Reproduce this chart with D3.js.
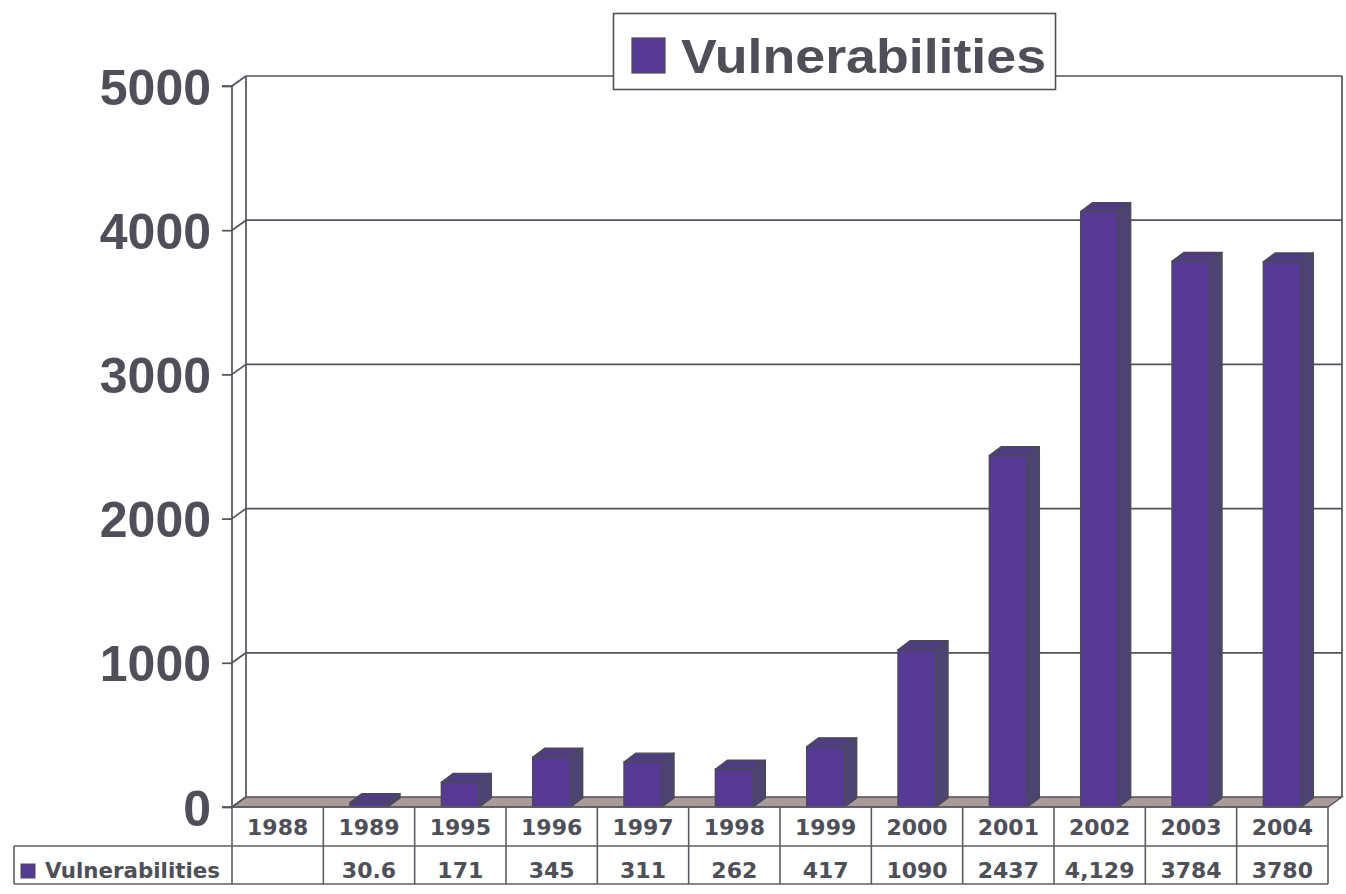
<!DOCTYPE html>
<html>
<head>
<meta charset="utf-8">
<script src="https://cdn.jsdelivr.net/npm/d3@7"></script>
<style>
  html, body { margin: 0; padding: 0; background: #ffffff; }
  svg { display: block; }
</style>
</head>
<body>
<svg id="chart" width="1346" height="894"></svg>
<script>
// ---- data ----
const years = ["1988", "1989", "1995", "1996", "1997", "1998", "1999", "2000", "2001", "2002", "2003", "2004"];
const vulnerabilities = [null, 30.6, 171, 345, 311, 262, 417, 1090, 2437, 4129, 3784, 3780];
const valueLabels = ["", "30.6", "171", "345", "311", "262", "417", "1090", "2437", "4,129", "3784", "3780"];
const yTicks = [0, 1000, 2000, 3000, 4000, 5000];
const seriesName = "Vulnerabilities";

// ---- style ----
const C = {
  front: "#563a93",
  side: "#4d4473",
  top: "#4e3d80",
  stroke: "#4a4a56",
  floor: "#a89b98",
  grid: "#52525c",
  text: "#4e4f58"
};

const svg = d3.select("#chart");

// geometry
const x0 = 232, x1 = 1328, yBottom = 807, yTop = 86;
const depthX = 14, depthY = -10;       // wall depth
const barDX = 12, barDY = -9;          // bar depth

const y = d3.scaleLinear().domain([0, 5000]).range([yBottom, yTop]);
const xCol = d3.scaleBand().domain(years).range([x0, x1]).padding(0);
const xBar = d3.scaleBand().domain(years).range([x0, x1]).paddingInner(0.584).paddingOuter(0.292);

const g = svg.append("g");

// floor
g.append("path")
  .attr("d", `M${x0},${yBottom} L${x1},${yBottom} L${x1 + depthX},${yBottom + depthY} L${x0 + depthX},${yBottom + depthY} Z`)
  .attr("fill", C.floor).attr("stroke", C.grid).attr("stroke-width", 1.3);

// back wall gridlines
const grid = g.append("g");
yTicks.forEach(t => {
  const yf = y(t), yb = y(t) + depthY;
  if (t > 0) {
    grid.append("line").attr("x1", x0 + depthX).attr("x2", x1 + depthX)
      .attr("y1", yb).attr("y2", yb).attr("stroke", C.grid).attr("stroke-width", 1.7);
  }
  grid.append("line").attr("x1", x0).attr("y1", yf).attr("x2", x0 + depthX).attr("y2", yb)
    .attr("stroke", C.grid).attr("stroke-width", 1.7);
});
grid.append("line").attr("x1", x0 + depthX).attr("x2", x0 + depthX)
  .attr("y1", y(5000) + depthY).attr("y2", yBottom + depthY).attr("stroke", C.grid).attr("stroke-width", 1.7);
grid.append("line").attr("x1", x1 + depthX).attr("x2", x1 + depthX)
  .attr("y1", y(5000) + depthY).attr("y2", yBottom + depthY).attr("stroke", C.grid).attr("stroke-width", 1.7);

// front axis with d3 axis
const yAxis = d3.axisLeft(y).tickValues(yTicks).tickSize(10).tickPadding(10).tickFormat(d3.format("d"));
const axG = svg.append("g").attr("transform", `translate(${x0},0)`).call(yAxis);
axG.select(".domain").attr("stroke", C.grid).attr("stroke-width", 1.7).attr("d", `M-10,${yTop}H0V${yBottom}H-10`);
axG.selectAll(".tick line").attr("stroke", C.grid).attr("stroke-width", 1.7);
axG.selectAll(".tick text")
  .attr("fill", C.text)
  .attr("font-family", "'Liberation Sans', Arial, sans-serif")
  .attr("font-weight", "bold")
  .attr("font-size", 50)
  .attr("dy", "0.36em")
  .attr("x", -21);

// bars
const data = years.map((yr, i) => ({ year: yr, v: vulnerabilities[i] })).filter(d => d.v != null);
const bars = svg.append("g").selectAll("g.bar").data(data).join("g").attr("class", "bar");
bars.each(function(d) {
  const gb = d3.select(this);
  const bx = xBar(d.year), bw = xBar.bandwidth();
  const yt = y(d.v), yb = y(0);
  gb.append("path")
    .attr("d", `M${bx + bw},${yb} L${bx + bw + barDX},${yb + barDY} L${bx + bw + barDX},${yt + barDY} L${bx + bw},${yt} Z`)
    .attr("fill", C.side).attr("stroke", C.stroke).attr("stroke-width", 1.4).attr("stroke-linejoin", "round");
  gb.append("path")
    .attr("d", `M${bx},${yt} L${bx + barDX},${yt + barDY} L${bx + bw + barDX},${yt + barDY} L${bx + bw},${yt} Z`)
    .attr("fill", C.top).attr("stroke", C.stroke).attr("stroke-width", 1.4).attr("stroke-linejoin", "round");
  gb.append("rect")
    .attr("x", bx).attr("y", yt).attr("width", bw).attr("height", Math.max(0, yb - yt))
    .attr("fill", C.front).attr("stroke", C.stroke).attr("stroke-width", 1.4);
});

// legend (top)
const lg = svg.append("g");
lg.append("rect").attr("x", 613.5).attr("y", 13.5).attr("width", 442).attr("height", 76)
  .attr("fill", "#ffffff").attr("stroke", C.grid).attr("stroke-width", 1.6);
lg.append("rect").attr("x", 632).attr("y", 38).attr("width", 33).attr("height", 35)
  .attr("fill", C.front).attr("stroke", C.stroke).attr("stroke-width", 1.2);
lg.append("text").attr("x", 681).attr("y", 73)
  .attr("font-family", "'Liberation Sans', Arial, sans-serif").attr("font-weight", "bold")
  .attr("font-size", 49).attr("fill", C.text)
  .attr("textLength", 365).attr("lengthAdjust", "spacingAndGlyphs")
  .text(seriesName);

// data table
const tb = svg.append("g");
const r0 = 807, r1 = 846, r2 = 884, legLeft = 14;
const tS = "#5c5c66", tW = 1.6;
function hline(xa, xb, yy) { tb.append("line").attr("x1", xa).attr("x2", xb).attr("y1", yy).attr("y2", yy).attr("stroke", tS).attr("stroke-width", tW); }
function vline(xx, ya, yb2) { tb.append("line").attr("x1", xx).attr("x2", xx).attr("y1", ya).attr("y2", yb2).attr("stroke", tS).attr("stroke-width", tW); }
hline(x0, x1, r0);
hline(legLeft, x1, r1);
hline(legLeft, x1, r2);
vline(legLeft, r1, r2);
years.forEach(yr => vline(xCol(yr), r0, r2));
vline(x1, r0, r2);

const tFont = "'DejaVu Sans', Verdana, sans-serif";
tb.selectAll("text.yr").data(years).join("text").attr("class", "yr")
  .attr("x", d => xCol(d) + xCol.bandwidth() / 2).attr("y", 835)
  .attr("text-anchor", "middle").attr("font-family", tFont).attr("font-weight", "bold")
  .attr("font-size", 22).attr("fill", C.text).text(d => d);
tb.selectAll("text.val").data(years).join("text").attr("class", "val")
  .attr("x", d => xCol(d) + xCol.bandwidth() / 2).attr("y", 878)
  .attr("text-anchor", "middle").attr("font-family", tFont).attr("font-weight", "bold")
  .attr("font-size", 22).attr("fill", C.text).text((d, i) => valueLabels[i]);
tb.append("rect").attr("x", 21).attr("y", 864).attr("width", 14).attr("height", 14)
  .attr("fill", C.front).attr("stroke", C.stroke).attr("stroke-width", 1);
tb.append("text").attr("x", 45).attr("y", 878)
  .attr("font-family", tFont).attr("font-weight", "bold").attr("font-size", 21).attr("fill", C.text)
  .attr("textLength", 175).attr("lengthAdjust", "spacingAndGlyphs")
  .text(seriesName);
</script>
</body>
</html>
